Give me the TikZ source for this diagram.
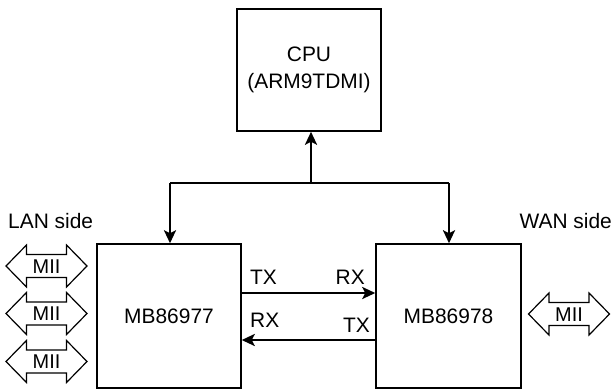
\documentclass[tikz,border=0pt]{standalone}
\usepackage{fontspec}
\setmainfont{Liberation Sans}
\usetikzlibrary{arrows.meta}
\begin{document}
\begin{tikzpicture}[x=1bp,y=-1bp,
  box/.style={draw, line width=1.5bp, minimum width=144bp, minimum height=144bp, inner sep=0pt},
  conn/.style={line width=2.8bp, -{Stealth[length=13bp,width=12bp,inset=3bp]}},
  bus/.style={line width=2.8bp},
  lbl/.style={inner sep=0pt, font=\fontsize{21}{26}\selectfont},
  mii/.style={draw, line width=1.2bp, line join=miter},
  every node/.style={font=\fontsize{21}{26}\selectfont}]
\useasboundingbox (0,0) rectangle (615,389);
% boxes
\node[box, minimum height=122bp, align=center] (cpu) at (309,70) {CPU\\[1bp](ARM9TDMI)};
\node[box] (lan) at (169,316) {MB86977};
\node[box, minimum width=145bp] (wan) at (448.5,316) {MB86978};
% bus
\coordinate (bl) at (170,183);
\coordinate (bm) at (311,183);
\coordinate (br) at (449,183);
\draw[bus] (bl) -- (br);
\draw[conn] (bm) -- (bm |- cpu.south);
\draw[conn] (bl) -- (bl |- lan.north);
\draw[conn] (br) -- (br |- wan.north);
% TX/RX
\draw[conn] (lan.east |- 0,293) -- (wan.west |- 0,293);
\draw[conn] (wan.west |- 0,340) -- (lan.east |- 0,340);
\node[lbl, anchor=west] (tx1) at (250,277) {TX};
\node[lbl, anchor=east] (rx1) at (365,277) {RX};
\node[lbl, anchor=west] (rx2) at (250,320) {RX};
\node[lbl, anchor=east] (tx2) at (370,325) {TX};
% side labels
\node[lbl, anchor=west] (lanl) at (8,221.5) {LAN side};
\node[lbl, anchor=east] (wanl) at (612,221.5) {WAN side};
% MII arrows
\foreach \n/\cx/\cy in {m1/46.5/266, m2/46.5/313.5, m3/46.5/361.5, m4/569/314} {
  \draw[mii] (\cx-40.5,\cy) -- (\cx-20,\cy-21) -- (\cx-20,\cy-11.5) -- (\cx+20,\cy-11.5)
    -- (\cx+20,\cy-21) -- (\cx+40.5,\cy) -- (\cx+20,\cy+21) -- (\cx+20,\cy+11.5)
    -- (\cx-20,\cy+11.5) -- (\cx-20,\cy+21) -- cycle;
  \node[lbl, font=\fontsize{20}{24}\selectfont] (\n) at (\cx,\cy+0.5) {MII};
}
\end{tikzpicture}
\end{document}
